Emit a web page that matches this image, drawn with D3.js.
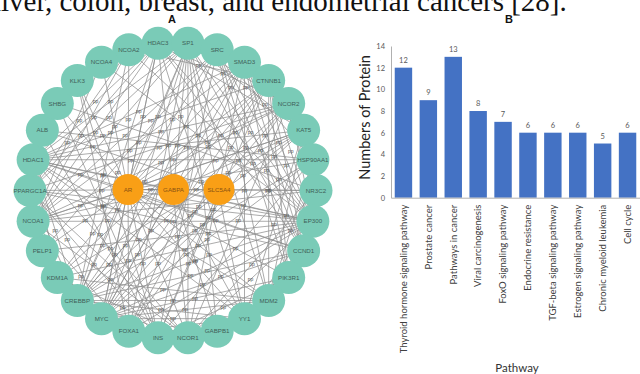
<!DOCTYPE html>
<html>
<head>
<meta charset="utf-8">
<script src="https://cdn.jsdelivr.net/npm/d3@7"></script>
<style>
  html, body { margin: 0; padding: 0; background: #fff; }
  svg { display: block; }
</style>
</head>
<body>
<svg id="fig" width="640" height="374"></svg>
<script>
// ---- Panel A: protein interaction network ----
const ringGenes = ["NCOA2","HDAC3","SP1","SRC","SMAD3","CTNNB1","NCOR2","KAT5","HSP90AA1","NR3C2",
  "EP300","CCND1","PIK3R1","MDM2","YY1","GABPB1","NCOR1","INS","FOXA1","MYC",
  "CREBBP","KDM1A","PELP1","NCOA1","PPARGC1A","HDAC1","ALB","SHBG","KLK3","NCOA4"];
const hubGenes = ["AR","GABPA","SLC5A4"];
const interactions = [
  ["AR","NCOA2"],["AR","HDAC3"],["AR","SP1"],["AR","SRC"],["AR","SMAD3"],["AR","CTNNB1"],["AR","NCOR2"],
  ["AR","KAT5"],["AR","HSP90AA1"],["AR","NR3C2"],["AR","EP300"],["AR","CCND1"],["AR","PIK3R1"],["AR","MDM2"],
  ["AR","YY1"],["AR","NCOR1"],["AR","INS"],["AR","FOXA1"],["AR","MYC"],["AR","CREBBP"],["AR","KDM1A"],
  ["AR","PELP1"],["AR","NCOA1"],["AR","HDAC1"],["AR","SHBG"],["AR","KLK3"],["AR","NCOA4"],["AR","GABPA"],
  ["GABPA","GABPB1"],["GABPA","SP1"],["GABPA","EP300"],["GABPA","CREBBP"],["GABPA","YY1"],["GABPA","HDAC1"],
  ["GABPA","MYC"],["GABPA","PPARGC1A"],["GABPA","KAT5"],["GABPA","NCOA1"],["GABPA","SLC5A4"],
  ["SLC5A4","INS"],["SLC5A4","ALB"],["SLC5A4","NR3C2"],
  ["EP300","SP1"],["EP300","SMAD3"],["EP300","CTNNB1"],["EP300","KAT5"],["EP300","HSP90AA1"],["EP300","CCND1"],
  ["EP300","MDM2"],["EP300","YY1"],["EP300","NCOR1"],["EP300","FOXA1"],["EP300","MYC"],["EP300","CREBBP"],
  ["EP300","KDM1A"],["EP300","PELP1"],["EP300","NCOA1"],["EP300","PPARGC1A"],["EP300","HDAC1"],["EP300","NCOA2"],
  ["EP300","HDAC3"],["EP300","NCOR2"],["EP300","NCOA4"],["EP300","SRC"],
  ["CREBBP","SP1"],["CREBBP","SMAD3"],["CREBBP","CTNNB1"],["CREBBP","KAT5"],["CREBBP","HSP90AA1"],["CREBBP","CCND1"],
  ["CREBBP","MDM2"],["CREBBP","YY1"],["CREBBP","NCOR1"],["CREBBP","FOXA1"],["CREBBP","MYC"],["CREBBP","NCOA1"],
  ["CREBBP","PPARGC1A"],["CREBBP","HDAC1"],["CREBBP","NCOA2"],["CREBBP","HDAC3"],["CREBBP","NCOR2"],
  ["HDAC1","HDAC3"],["HDAC1","SP1"],["HDAC1","SMAD3"],["HDAC1","CTNNB1"],["HDAC1","NCOR1"],["HDAC1","NCOR2"],
  ["HDAC1","KDM1A"],["HDAC1","YY1"],["HDAC1","MYC"],["HDAC1","MDM2"],["HDAC1","CCND1"],["HDAC1","HSP90AA1"],
  ["HDAC1","KAT5"],
  ["SP1","SRC"],["SP1","SMAD3"],["SP1","CTNNB1"],["SP1","HDAC3"],["SP1","NCOR2"],["SP1","KAT5"],["SP1","CCND1"],
  ["SP1","MDM2"],["SP1","YY1"],["SP1","NCOR1"],["SP1","MYC"],["SP1","NCOA1"],["SP1","PPARGC1A"],["SP1","FOXA1"],
  ["SP1","GABPB1"],
  ["CTNNB1","SRC"],["CTNNB1","SMAD3"],["CTNNB1","MYC"],["CTNNB1","CCND1"],["CTNNB1","KDM1A"],["CTNNB1","PIK3R1"],
  ["CTNNB1","FOXA1"],["CTNNB1","INS"],["CTNNB1","HSP90AA1"],["CTNNB1","MDM2"],["CTNNB1","NCOA2"],
  ["SRC","SMAD3"],["SRC","HSP90AA1"],["SRC","PIK3R1"],["SRC","CCND1"],["SRC","MYC"],["SRC","NCOA1"],["SRC","INS"],
  ["SRC","PELP1"],["SRC","MDM2"],
  ["SMAD3","KAT5"],["SMAD3","MYC"],["SMAD3","CCND1"],["SMAD3","NCOR1"],["SMAD3","HDAC3"],["SMAD3","PIK3R1"],
  ["SMAD3","YY1"],["SMAD3","FOXA1"],["SMAD3","NCOA1"],
  ["MYC","CCND1"],["MYC","MDM2"],["MYC","KAT5"],["MYC","YY1"],["MYC","HSP90AA1"],["MYC","KDM1A"],["MYC","NCOR2"],
  ["MYC","HDAC3"],["MYC","PIK3R1"],["MYC","INS"],["MYC","NCOR1"],
  ["NCOR1","NCOR2"],["NCOR1","HDAC3"],["NCOR1","PPARGC1A"],["NCOR1","NCOA1"],["NCOR1","NR3C2"],
  ["NCOR2","HDAC3"],["NCOR2","NCOA1"],["NCOR2","PPARGC1A"],["NCOR2","FOXA1"],
  ["NCOA1","NCOA2"],["NCOA1","NCOA4"],["NCOA1","PPARGC1A"],["NCOA1","KAT5"],["NCOA1","HDAC3"],["NCOA1","PELP1"],
  ["NCOA1","FOXA1"],["NCOA1","NR3C2"],
  ["NCOA2","NCOA4"],["NCOA2","PPARGC1A"],["NCOA2","HDAC3"],
  ["HSP90AA1","PIK3R1"],["HSP90AA1","MDM2"],["HSP90AA1","CCND1"],["HSP90AA1","KAT5"],["HSP90AA1","INS"],
  ["HSP90AA1","ALB"],
  ["PIK3R1","INS"],["PIK3R1","MDM2"],["PIK3R1","CCND1"],
  ["MDM2","CCND1"],["MDM2","YY1"],["MDM2","KAT5"],["MDM2","KDM1A"],
  ["KDM1A","NCOR1"],["KDM1A","PELP1"],["KDM1A","KAT5"],["KDM1A","FOXA1"],
  ["INS","ALB"],["INS","SHBG"],["INS","PPARGC1A"],["INS","FOXA1"],["INS","KLK3"],
  ["ALB","SHBG"],["ALB","KLK3"],["FOXA1","KLK3"],["FOXA1","YY1"],["KLK3","SHBG"],
  ["YY1","KAT5"],["YY1","HDAC3"],["YY1","NCOR1"],["PPARGC1A","HDAC3"],["PPARGC1A","CCND1"],
  ["KAT5","HDAC3"],["GABPB1","YY1"],["CCND1","HDAC3"],["SHBG","NR3C2"],["NR3C2","NCOR2"]
];

// ---- Panel B: KEGG pathway counts ----
const pathways = ["Thyroid hormone signaling pathway","Prostate cancer","Pathways in cancer",
  "Viral carcinogenesis","FoxO signaling pathway","Endocrine resistance","TGF-beta signaling pathway",
  "Estrogen signaling pathway","Chronic myeloid leukemia","Cell cycle"];
const proteinCounts = [12, 9, 13, 8, 7, 6, 6, 6, 5, 6];
const countTicks = [0, 2, 4, 6, 8, 10, 12, 14];

const svg = d3.select("#fig");

// Caption line from the surrounding text (clipped by the top edge)
svg.append("text")
  .attr("x", -7).attr("y", 11)
  .attr("font-family", "Liberation Serif, Times New Roman, serif")
  .attr("font-size", 29).attr("fill", "#111")
  .text("liver, colon, breast, and endometrial cancers [28].");

// Panel letters
svg.append("text").attr("x", 172).attr("y", 23).attr("text-anchor", "middle")
  .attr("font-family", "Liberation Sans, Arial, sans-serif").attr("font-weight", "bold")
  .attr("font-size", 11).attr("fill", "#111").text("A");
svg.append("text").attr("x", 509).attr("y", 23).attr("text-anchor", "middle")
  .attr("font-family", "Liberation Sans, Arial, sans-serif").attr("font-weight", "bold")
  .attr("font-size", 11).attr("fill", "#111").text("B");

// ---- Network layout: ring of partners around three hub genes ----
const cx = 173, cy = 190.5, rx = 143, ry = 148;
const ringAngle = d3.scaleLinear().domain([0, ringGenes.length]).range([-18, 342]);
const pos = new Map();
ringGenes.forEach((g, i) => {
  const a = ringAngle(i) * Math.PI / 180;
  pos.set(g, [cx + rx * Math.sin(a), cy - ry * Math.cos(a)]);
});
const hubX = d3.scalePoint().domain(hubGenes).range([cx - 45, cx + 46]);
hubGenes.forEach(g => pos.set(g, [hubX(g), cy - 1]));

const nodeR = 16.5, hubR = 15.5;
const allGenes = ringGenes.concat(hubGenes);
const mid = d => [(pos.get(d[0])[0] + pos.get(d[1])[0]) / 2, (pos.get(d[0])[1] + pos.get(d[1])[1]) / 2];
// an edge label sitting under a node disc would be covered anyway
const labelVisible = d => {
  const [mx, my] = mid(d);
  return !allGenes.some(g => Math.hypot(pos.get(g)[0] - mx, pos.get(g)[1] - my) < nodeR + 2);
};

const net = svg.append("g");
net.append("g").selectAll("line").data(interactions).join("line")
  .attr("x1", d => pos.get(d[0])[0]).attr("y1", d => pos.get(d[0])[1])
  .attr("x2", d => pos.get(d[1])[0]).attr("y2", d => pos.get(d[1])[1])
  .attr("stroke", "#8f8f8f").attr("stroke-width", 0.75);

net.append("g").selectAll("text").data(interactions.filter(labelVisible)).join("text")
  .attr("x", d => mid(d)[0]).attr("y", d => mid(d)[1])
  .attr("text-anchor", "middle").attr("dy", "0.35em")
  .attr("font-family", "Liberation Sans, Arial, sans-serif").attr("font-size", 5)
  .attr("fill", "#555").text("pp");

net.append("g").selectAll("circle").data(ringGenes).join("circle")
  .attr("cx", d => pos.get(d)[0]).attr("cy", d => pos.get(d)[1])
  .attr("r", nodeR).attr("fill", "#7acbb7");
net.append("g").selectAll("circle").data(hubGenes).join("circle")
  .attr("cx", d => pos.get(d)[0]).attr("cy", d => pos.get(d)[1])
  .attr("r", hubR).attr("fill", "#f99f16");

net.append("g").selectAll("text").data(allGenes).join("text")
  .attr("x", d => pos.get(d)[0]).attr("y", d => pos.get(d)[1])
  .attr("text-anchor", "middle").attr("dy", "0.35em")
  .attr("font-family", "Liberation Sans, Arial, sans-serif").attr("font-size", 6.2)
  .attr("fill", d => hubGenes.includes(d) ? "#8a5212" : "#3f5f58")
  .text(d => d);

// ---- Bar chart ----
const x = d3.scaleBand().domain(pathways).range([391, 640]).paddingInner(0.3).paddingOuter(0.15);
const y = d3.scaleLinear().domain([0, 14]).range([197.7, 46]);
const chartFont = "Lato, Carlito, Calibri, sans-serif";

svg.append("g").selectAll("rect").data(proteinCounts).join("rect")
  .attr("x", (d, i) => x(pathways[i])).attr("width", x.bandwidth())
  .attr("y", d => y(d)).attr("height", d => y(0) - y(d))
  .attr("fill", "#4472c4");

svg.append("g").selectAll("text").data(proteinCounts).join("text")
  .attr("x", (d, i) => x(pathways[i]) + x.bandwidth() / 2)
  .attr("y", d => y(d) - 5)
  .attr("text-anchor", "middle").attr("font-family", chartFont).attr("font-size", 7.5)
  .attr("fill", "#595959").text(d => d);

const yAxis = svg.append("g").attr("transform", "translate(391,0)")
  .call(d3.axisLeft(y).tickValues(countTicks).tickSize(0).tickPadding(6));
yAxis.select(".domain").attr("stroke", "#b0b0b0").attr("stroke-width", 1);
yAxis.selectAll("text").attr("font-family", chartFont).attr("font-size", 7.5).attr("fill", "#595959");

const xAxis = svg.append("g").attr("transform", `translate(0,${y(0)})`)
  .call(d3.axisBottom(x).tickSize(0).tickSizeOuter(0));
xAxis.select(".domain").attr("stroke", "#b0b0b0").attr("stroke-width", 1);
xAxis.selectAll("text")
  .attr("font-family", chartFont).attr("font-size", 9.5).attr("fill", "#404040")
  .attr("transform", "rotate(-90)").attr("text-anchor", "end")
  .attr("x", -7).attr("y", 0).attr("dy", "0.35em");

svg.append("text")
  .attr("transform", "translate(370,117.5) rotate(-90)")
  .attr("text-anchor", "middle").attr("font-family", chartFont).attr("font-size", 14.5)
  .attr("fill", "#222").text("Numbers of Protein");

svg.append("text").attr("x", 517).attr("y", 372).attr("text-anchor", "middle")
  .attr("font-family", chartFont).attr("font-size", 11.5).attr("fill", "#333")
  .text("Pathway");
</script>
</body>
</html>
